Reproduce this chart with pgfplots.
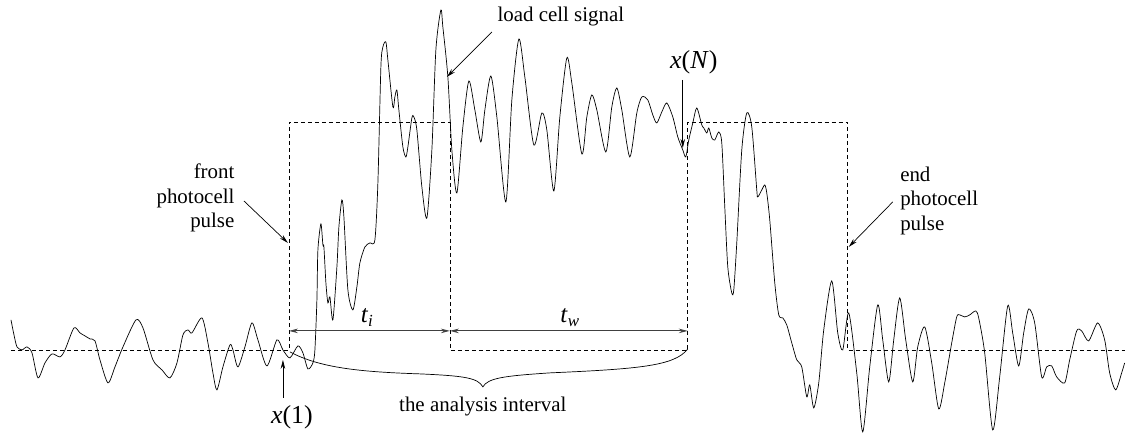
\documentclass[border=0pt]{standalone}
\usepackage{pgfplots}
\pgfplotsset{compat=1.18}
\usepackage{fontspec}
\setmainfont{Liberation Serif}
\usetikzlibrary{arrows.meta}

\begin{document}
\begin{tikzpicture}[
  arr/.style={-{Stealth[length=9bp,width=4.5bp]}, line width=0.7bp},
  dbl/.style={{Stealth[length=9bp,width=4.5bp]}-{Stealth[length=9bp,width=4.5bp]}, line width=1bp, black!75},
  dsh/.style={dash pattern=on 4bp off 3bp, line width=0.6bp},
]
\begin{axis}[
  scale only axis,
  width=1125bp, height=435bp,
  xmin=0, xmax=1125, ymin=0, ymax=435,
  y dir=reverse,
  hide axis,
  clip=false,
]
% frame of the page
\path (axis cs:0,0) rectangle (axis cs:1125,435);

% photocell pulses and baseline
\addplot[dsh] coordinates {
  (11,350) (289,350) (289,122) (450,122) (450,350) (688,350)
  (688,122) (848,122) (848,350) (1125,350)
};

% load cell signal
\addplot[line width=0.7bp, smooth, tension=0.45] coordinates {
(11,320)(14,335)(17,347)(22,350)(27,347)(32,353)(38,378)(45,363)(52,354)(60,357)(65,350)(74,328)(80,333)(85,336)(90,339)(95,341)(100,360)(108,383)(115,367)(123,347)(136,320)(143,328)(153,360)(162,370)(170,378)(177,363)(183,335)(188,330)(192,333)(202,318)(208,343)(213,373)(217,390)(223,367)(230,345)(233,350)(238,367)(245,347)(252,323)(258,340)(267,366)(277,340)(283,350)(290,358)(298,346)(303,353)(308,369)(313,363)(315,350)(317,300)(318,250)(321,224)(323,245)(324,247)(326,283)(328,303)(330,297)(333,320)(337,267)(339,227)(342,200)(344,217)(348,290)(353,310)(357,287)(360,263)(365,247)(370,243)(375,240)(378,183)(381,67)(383,47)(386,42)(388,60)(393,107)(395,97)(397,90)(399,110)(403,147)(406,157)(408,147)(412,118)(414,117)(417,130)(422,187)(427,218)(432,150)(436,50)(441,10)(443,27)(448,77)(452,150)(457,193)(463,127)(469,81)(475,110)(481,142)(485,110)(491,76)(497,117)(506,202)(512,100)(519,39)(525,77)(534,145)(542,113)(547,130)(554,191)(560,117)(567,58)(572,83)(582,154)(587,117)(592,95)(597,110)(606,152)(612,107)(617,88)(622,110)(630,157)(637,113)(642,97)(648,100)(653,115)(657,123)(662,112)(667,103)(673,117)(678,137)(683,150)(686,157)(689,140)(693,123)(697,108)(702,125)(704,128)(707,133)(709,128)(712,138)(715,140)(719,132)(722,143)(725,207)(728,267)(732,293)(734,290)(737,243)(742,150)(747,113)(752,127)(757,190)(758,197)(762,190)(765,185)(767,193)(770,220)(775,283)(779,315)(783,318)(787,325)(792,343)(797,360)(802,367)(807,397)(810,385)(814,408)(819,383)(824,330)(832,281)(838,333)(843,350)(849,313)(857,373)(863,432)(870,367)(878,305)(883,340)(889,382)(894,340)(900,298)(906,340)(913,382)(918,347)(925,327)(932,363)(939,409)(945,383)(952,343)(957,317)(960,315)(965,317)(970,315)(976,311)(979,318)(985,353)(993,430)(1000,377)(1008,306)(1013,333)(1019,366)(1024,333)(1029,309)(1035,323)(1042,377)(1047,367)(1052,366)(1057,377)(1065,383)(1070,360)(1077,331)(1082,331)(1089,341)(1098,323)(1105,340)(1110,373)(1116,390)(1122,373)(1125,363)
};

% brace of the analysis interval
\draw[line width=0.7bp] (axis cs:290,352)
  .. controls (axis cs:320,368) and (axis cs:360,372) .. (axis cs:420,374)
  .. controls (axis cs:465,376) and (axis cs:478,378) .. (axis cs:483,387)
  .. controls (axis cs:488,378) and (axis cs:505,376) .. (axis cs:550,373)
  .. controls (axis cs:640,369) and (axis cs:675,366) .. (axis cs:688,349);

% time intervals
\draw[dbl] (axis cs:289,331) -- (axis cs:450,331);
\draw[dbl] (axis cs:450,331) -- (axis cs:688,331);

\begin{scope}[font=\fontsize{21}{24.5}\selectfont]
\node at (axis cs:367,318) {\fontsize{25}{25}\selectfont\textit{t}\raisebox{-0.35ex}{\fontsize{17}{17}\selectfont\textit{i}}};
\node at (axis cs:570,318) {\fontsize{25}{25}\selectfont\textit{t}\raisebox{-0.35ex}{\fontsize{17}{17}\selectfont\textit{w}}};

\node at (axis cs:561,17) {load cell signal};
\draw[arr] (axis cs:492,32) -- (axis cs:447,77);

\node[align=right, anchor=east] at (axis cs:238,198) {front\\photocell\\pulse};
\draw[arr] (axis cs:244,201) -- (axis cs:288,243);

\node[align=left, anchor=west] at (axis cs:897,201) {end\\photocell\\pulse};
\draw[arr] (axis cs:893,202) -- (axis cs:849,247);

\node at (axis cs:483,407) {the analysis interval};

\node at (axis cs:292,417) {\fontsize{26}{26}\selectfont\textit{x}(1)};
\draw[arr] (axis cs:283,398) -- (axis cs:283,360);

\node at (axis cs:694,62) {\fontsize{26}{26}\selectfont\textit{x}(\textit{N})};
\draw[arr] (axis cs:683,80) -- (axis cs:683,148);
\end{scope}
\end{axis}
\end{tikzpicture}
\end{document}
